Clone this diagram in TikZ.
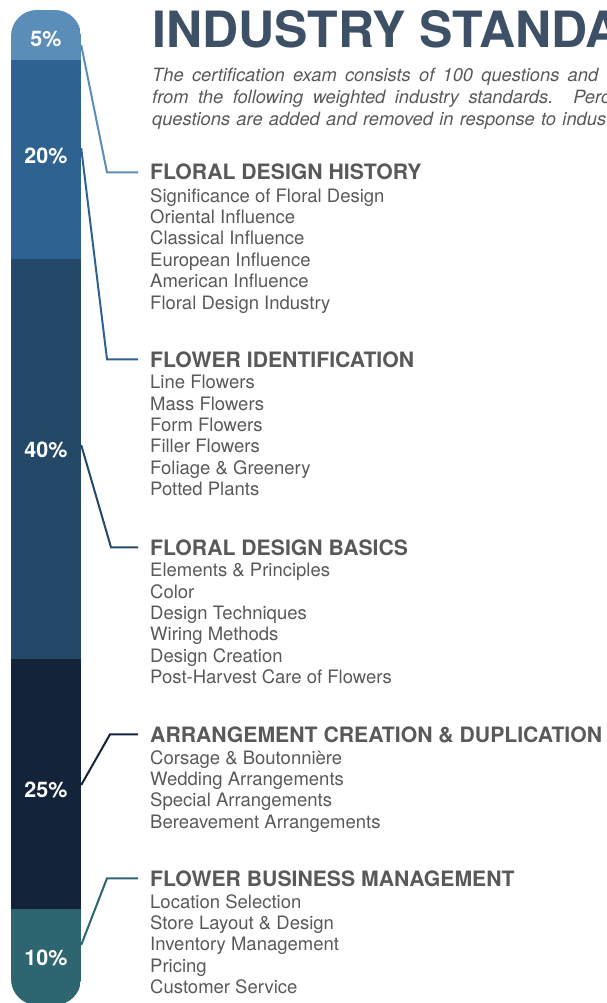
\documentclass[tikz,border=0pt]{standalone}
\usepackage{fontspec}
\setmainfont{TeX Gyre Heros}
\usetikzlibrary{positioning}

\definecolor{seg5}{HTML}{5B8DB9}
\definecolor{seg20}{HTML}{2E6391}
\definecolor{seg40}{HTML}{244968}
\definecolor{seg25}{HTML}{13233A}
\definecolor{seg10}{HTML}{2D6670}
\definecolor{titleblue}{HTML}{3E5065}
\definecolor{textgray}{HTML}{595959}

\tikzstyle{pct} = [text=white, font=\fontsize{21.5}{21.5}\selectfont\bfseries, minimum width=70pt, inner sep=0pt, text height=15pt, text depth=0pt]
\tikzstyle{heading} = [anchor=base west, inner sep=0pt, text=textgray, font=\fontsize{21.2}{21.2}\selectfont\bfseries]
\tikzstyle{items} = [anchor=north west, inner sep=0pt, align=left, text=textgray, font=\fontsize{18.5}{21.4}\selectfont]
\tikzstyle{intro} = [anchor=base west, inner sep=0pt, text=textgray, font=\fontsize{18.3}{22}\selectfont\itshape]
\tikzstyle{link} = [line width=2pt]

\begin{document}
\begin{tikzpicture}[x=1pt, y=-1pt]

\useasboundingbox (0,0) rectangle (606,1003);
\clip (0,0) rectangle (606,1003);

\begin{scope}
\clip [rounded corners=26pt] (11,10) rectangle (81,1005);
\fill [seg5] (11,10) rectangle (81,60);
\fill [seg20] (11,60) rectangle (81,259);
\fill [seg40] (11,259) rectangle (81,659);
\fill [seg25] (11,659) rectangle (81,909);
\fill [seg10] (11,909) rectangle (81,1005);
\end{scope}

\node (p5) [pct] at (46,39) {5\%};
\node (p20) [pct] at (46,156) {20\%};
\node (p40) [pct] at (46,450) {40\%};
\node (p25) [pct] at (46,790) {25\%};
\node (p10) [pct] at (46,958) {10\%};

\node (title) [anchor=base west, inner sep=0pt, text=titleblue, font=\fontsize{50}{50}\selectfont\bfseries] at (152,48) {INDUSTRY STANDA};
\node (intro1) [intro] at (152,82) {\makebox[446pt][s]{The certification exam consists of 100 questions and}};
\node (intro2) [intro] at (152,104) {\makebox[458pt][s]{from the following weighted industry standards. Perc}};
\node (intro3) [intro] at (152,126) {\makebox[454pt][s]{questions are added and removed in response to indus}};

\node (hist) [heading] at (150,180) {FLORAL DESIGN HISTORY};
\node (histlist) [items] at (150,188) {Significance of Floral Design\\Oriental Influence\\Classical Influence\\European Influence\\American Influence\\Floral Design Industry};

\node (ident) [heading] at (150,367) {FLOWER IDENTIFICATION};
\node (identlist) [items] at (150,375) {Line Flowers\\Mass Flowers\\Form Flowers\\Filler Flowers\\Foliage \& Greenery\\Potted Plants};

\node (basics) [heading] at (150,555) {FLORAL DESIGN BASICS};
\node (basicslist) [items] at (150,563) {Elements \& Principles\\Color\\Design Techniques\\Wiring Methods\\Design Creation\\Post-Harvest Care of Flowers};

\node (arrange) [heading] at (150,742) {ARRANGEMENT CREATION \& DUPLICATION};
\node (arrangelist) [items] at (150,750) {Corsage \& Boutonnière\\Wedding Arrangements\\Special Arrangements\\Bereavement Arrangements};

\node (business) [heading] at (150,886) {FLOWER BUSINESS MANAGEMENT};
\node (businesslist) [items] at (150,894) {Location Selection\\Store Layout \& Design\\Inventory Management\\Pricing\\Customer Service};

\draw [link, seg5] ([yshift=-6pt]p5.east) -- ([xshift=-43pt]hist.west) -- ([xshift=-12pt]hist.west);
\draw [link, seg20] ([yshift=8pt]p20.east) -- ([xshift=-43pt]ident.west) -- ([xshift=-12pt]ident.west);
\draw [link, seg40] ([yshift=5pt]p40.east) -- ([xshift=-39pt]basics.west) -- ([xshift=-12pt]basics.west);
\draw [link, seg25] ([yshift=5pt]p25.east) -- ([xshift=-40pt]arrange.west) -- ([xshift=-12pt]arrange.west);
\draw [link, seg10] ([yshift=13pt]p10.east) -- ([xshift=-43pt]business.west) -- ([xshift=-12pt]business.west);

\end{tikzpicture}
\end{document}
